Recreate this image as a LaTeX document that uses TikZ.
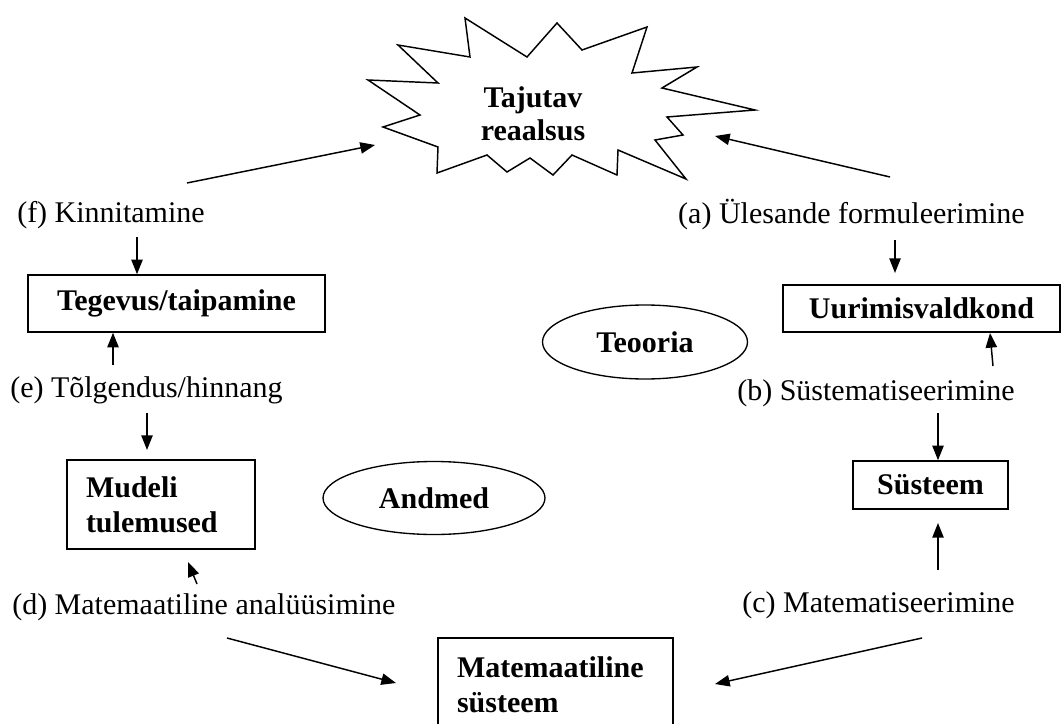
\documentclass[tikz,border=0pt]{standalone}
\usepackage{fontspec}
\setmainfont{Liberation Serif}
\usetikzlibrary{shapes.geometric,arrows.meta,calc}
\begin{document}
\begin{tikzpicture}[x=0.75pt,y=-0.75pt,
  font=\fontsize{22.5}{27}\selectfont,
  box/.style={draw,line width=1.1pt,inner sep=0pt,
    font=\fontsize{22.5}{26}\selectfont\bfseries},
  oval/.style={draw,ellipse,line width=1pt,inner sep=0pt,
    font=\fontsize{22.5}{26}\selectfont\bfseries},
  lbl/.style={inner sep=0pt},
  arr/.style={line width=1.1pt,-{Triangle[length=11pt,width=8.5pt]}}
]
\path[use as bounding box] (0,0) rectangle (1061,724);
\clip (0,0) rectangle (1061,724);

% starburst
\draw[line width=1.1pt,line join=miter]
  (368,80) -- (438,83) -- (398,45) -- (470,57) -- (465,18) -- (527,57)
  -- (557,23) -- (582,50) -- (647,27) -- (632,73) -- (697,67) -- (662,88)
  -- (755,110) -- (667,117) -- (683,135) -- (655,140) -- (686,179)
  -- (618,150) -- (617,175) -- (572,155) -- (553,175) -- (530,158)
  -- (507,172) -- (487,155) -- (437,173) -- (438,147) -- (383,127)
  -- (420,115) -- cycle;
\node[inner sep=0pt,align=center,font=\fontsize{22.5}{25}\selectfont\bfseries]
  (real) at (533,114) {Tajutav\\reaalsus};

% boxes
\node[box,minimum width=222.75pt,minimum height=42.75pt] (teg) at (176.5,303.5) {Tegevus/taipamine};
\node[box,minimum width=207.75pt,minimum height=35.25pt] (uur) at (921.5,308.5) {Uurimisvaldkond};
\node[box,minimum width=116.25pt,minimum height=36pt] (sys) at (930.5,485) {Süsteem};
\node[box,minimum width=141pt,minimum height=66.75pt,text width=112.5pt,align=left] (mud) at (161,504.5) {Mudeli\\tulemused};
\node[box,minimum width=176.25pt,minimum height=70.5pt,text width=147.75pt,align=left] (mat) at (555.5,685) {Matemaatiline\\süsteem};

% ellipses
\node[oval,minimum width=153.75pt,minimum height=55.5pt] (teo) at (645,342) {Teooria};
\node[oval,minimum width=166.5pt,minimum height=54.75pt] (and) at (434,498) {Andmed};

% labels
\node[lbl,anchor=west] (lf) at (17,215) {(f) Kinnitamine};
\node[lbl,anchor=west] (le) at (10,390) {(e) Tõlgendus/hinnang};
\node[lbl,anchor=west] (ld) at (12,607) {(d) Matemaatiline analüüsimine};
\node[lbl,anchor=east] (la) at (1025,215) {(a) Ülesande formuleerimine};
\node[lbl,anchor=east] (lb) at (1015,393) {(b) Süstematiseerimine};
\node[lbl,anchor=east] (lc) at (1015,605) {(c) Matematiseerimine};

% arrow end points
\coordinate (f1) at (187,183);  \coordinate (f2) at (375,145);
\coordinate (a1) at (890,177);  \coordinate (a2) at (715,136);
\coordinate (fd) at (137,237);
\coordinate (eu) at (113,365);
\coordinate (ed1) at (147,413); \coordinate (ed2) at (147,450);
\coordinate (du1) at (197,584); \coordinate (du2) at (188,562);
\coordinate (dm1) at (227,638); \coordinate (dm2) at (396,683);
\coordinate (cm1) at (922,638); \coordinate (cm2) at (715,684);
\coordinate (cu1) at (938,570); \coordinate (cu2) at (938,523);
\coordinate (bd) at (938,413);
\coordinate (bu) at (993,366);  \coordinate (bu2) at (990,333);
\coordinate (ad1) at (895,240); \coordinate (ad2) at (895,273);

% connectors
\draw[arr] (f1) -- (f2);
\draw[arr] (a1) -- (a2);
\draw[arr] (fd) -- (teg.north -| fd);
\draw[arr] (eu) -- (teg.south -| eu);
\draw[arr] (ed1) -- (ed2);
\draw[arr] (du1) -- (du2);
\draw[arr] (dm1) -- (dm2);
\draw[arr] (cm1) -- (cm2);
\draw[arr] (cu1) -- (cu2);
\draw[arr] (bd) -- (sys.north -| bd);
\draw[arr] (bu) -- (bu2);
\draw[arr] (ad1) -- (ad2);
\end{tikzpicture}
\end{document}
